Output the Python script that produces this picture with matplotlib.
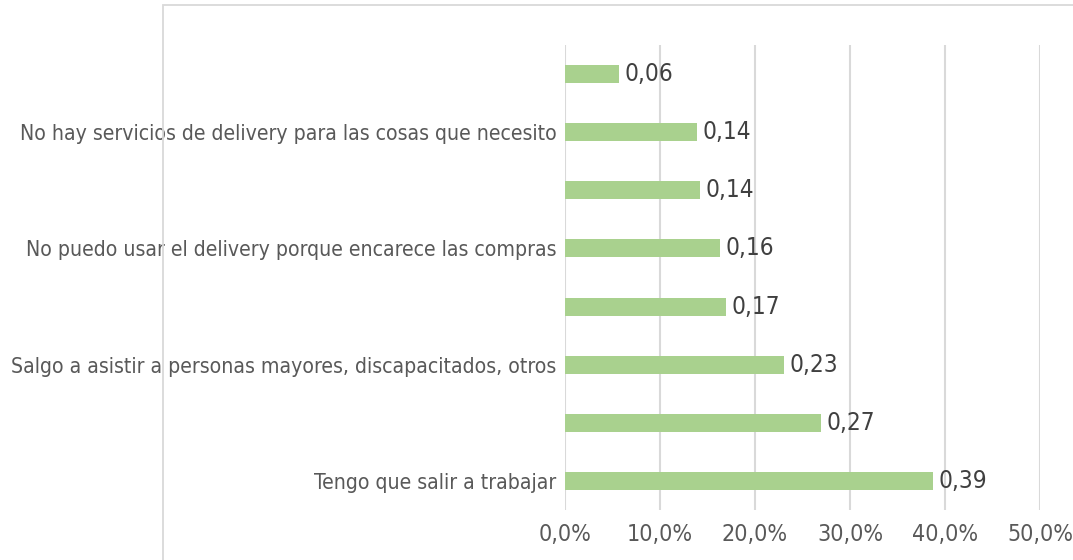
import matplotlib
matplotlib.use('Agg')
import matplotlib.pyplot as plt
from matplotlib.patches import Rectangle
from matplotlib.ticker import FuncFormatter

# top to bottom
categories = [
    '',
    'No hay servicios de delivery para las cosas que necesito',
    '',
    'No puedo usar el delivery porque encarece las compras',
    '',
    'Salgo a asistir a personas mayores, discapacitados, otros',
    '',
    'Tengo que salir a trabajar',
]
values = [0.057, 0.139, 0.142, 0.163, 0.169, 0.230, 0.269, 0.387]
value_labels = ['0,06', '0,14', '0,14', '0,16', '0,17', '0,23', '0,27', '0,39']
xticks = [0.0, 0.1, 0.2, 0.3, 0.4, 0.5]

bar_color = '#A9D18E'
grid_color = '#D9D9D9'
label_color = '#595959'
value_color = '#404040'

plt.rcParams['font.family'] = 'DejaVu Sans'
plt.rcParams['font.stretch'] = 'condensed'

fig = plt.figure(figsize=(10.73, 5.6), dpi=100)
ax = fig.add_axes([565 / 1073, 1 - 510 / 560, 475 / 1073, 465 / 560])

y = list(range(len(values)))
ax.barh(y, values, height=0.31, color=bar_color, zorder=3)
for yi, v, lab in zip(y, values, value_labels):
    ax.text(v + 0.006, yi, lab, va='center', ha='left', fontsize=17.5,
            color=value_color)

ax.set_ylim(len(values) - 0.5, -0.5)
ax.set_xlim(0, 0.5)
ax.set_yticks(y)
ax.set_yticklabels(categories, fontsize=15.2, color=label_color)
ax.set_xticks(xticks)
ax.xaxis.set_major_formatter(FuncFormatter(
    lambda v, p: '{:.1f}%'.format(v * 100).replace('.', ',')))
ax.tick_params(axis='x', labelsize=16.7, labelcolor=label_color, length=0,
               pad=9)
ax.tick_params(axis='y', length=0, pad=6)
ax.grid(axis='x', color=grid_color, linewidth=1.5, zorder=0)
for s in ax.spines.values():
    s.set_visible(False)

# outer chart frame (cropped)
fig.add_artist(Rectangle((163 / 1073, -0.1), 1.0, 1 - 5 / 560 + 0.1,
                         transform=fig.transFigure, fill=False,
                         edgecolor=grid_color, linewidth=1.3))

fig.savefig('out.png', dpi=100)
